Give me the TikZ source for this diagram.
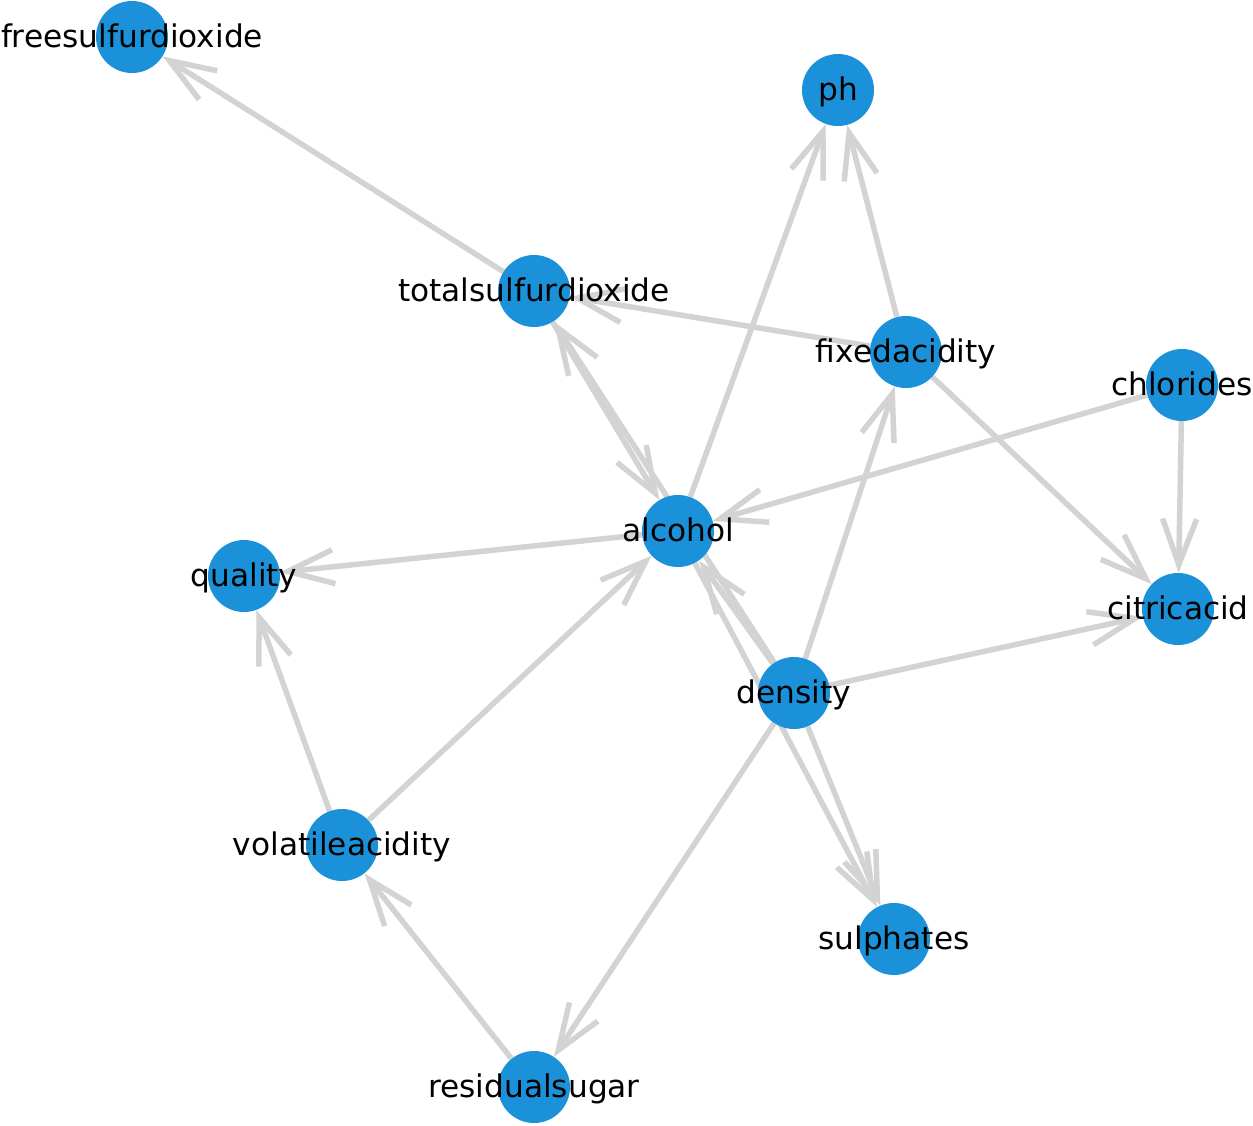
\documentclass[tikz,border=0pt]{standalone}
\usepackage{fontspec}
\setmainfont{DejaVu Sans}
\usetikzlibrary{arrows.meta,backgrounds}
\definecolor{nodeblue}{RGB}{27,145,217}
\definecolor{edgegray}{RGB}{211,211,211}
\begin{document}
\begin{tikzpicture}[x=1pt,y=-1pt,
  vertex/.style={circle,fill=nodeblue,draw=none,minimum size=72pt,inner sep=0pt},
  lbl/.style={font=\fontsize{31.2}{36}\selectfont,text=black,inner sep=0pt,
    text height=23.7pt,text depth=7.4pt,yshift=-2pt},
  edge/.style={draw=edgegray,line width=5.5pt,-{Straight Barb[length=46pt,width=34pt]}}]
\useasboundingbox (0,0) rectangle (1253,1125);
\node[vertex,label={[lbl]center:freesulfurdioxide}] (fsd) at (132,37) {};
\node[vertex,label={[lbl]center:ph}] (ph) at (838,90) {};
\node[vertex,label={[lbl]center:totalsulfurdioxide}] (tsd) at (534,291) {};
\node[vertex,label={[lbl]center:fixedacidity}] (fa) at (906,352) {};
\node[vertex,label={[lbl]center:chlorides}] (cl) at (1182,385) {};
\node[vertex,label={[lbl]center:alcohol}] (al) at (678,531) {};
\node[vertex,label={[lbl]center:quality}] (q) at (244,576) {};
\node[vertex,label={[lbl]center:citricacid}] (ca) at (1178,609) {};
\node[vertex,label={[lbl]center:density}] (de) at (794,693) {};
\node[vertex,label={[lbl]center:volatileacidity}] (va) at (342,845) {};
\node[vertex,label={[lbl]center:sulphates}] (su) at (894,939) {};
\node[vertex,label={[lbl]center:residualsugar}] (rs) at (534,1087) {};
\begin{scope}[on background layer]
\draw[edge] (tsd) -- (fsd);
\draw[edge] (al) -- (ph);
\draw[edge] (fa) -- (ph);
\draw[edge] (fa) -- (tsd);
\draw[edge] (tsd) -- (al);
\draw[edge] (de) -- (tsd);
\draw[edge] (de) -- (al);
\draw[edge] (cl) -- (al);
\draw[edge] (cl) -- (ca);
\draw[edge] (fa) -- (ca);
\draw[edge] (de) -- (ca);
\draw[edge] (de) -- (fa);
\draw[edge] (al) -- (q);
\draw[edge] (va) -- (q);
\draw[edge] (va) -- (al);
\draw[edge] (al) -- (su);
\draw[edge] (de) -- (su);
\draw[edge] (de) -- (rs);
\draw[edge] (rs) -- (va);
\end{scope}
\end{tikzpicture}
\end{document}
